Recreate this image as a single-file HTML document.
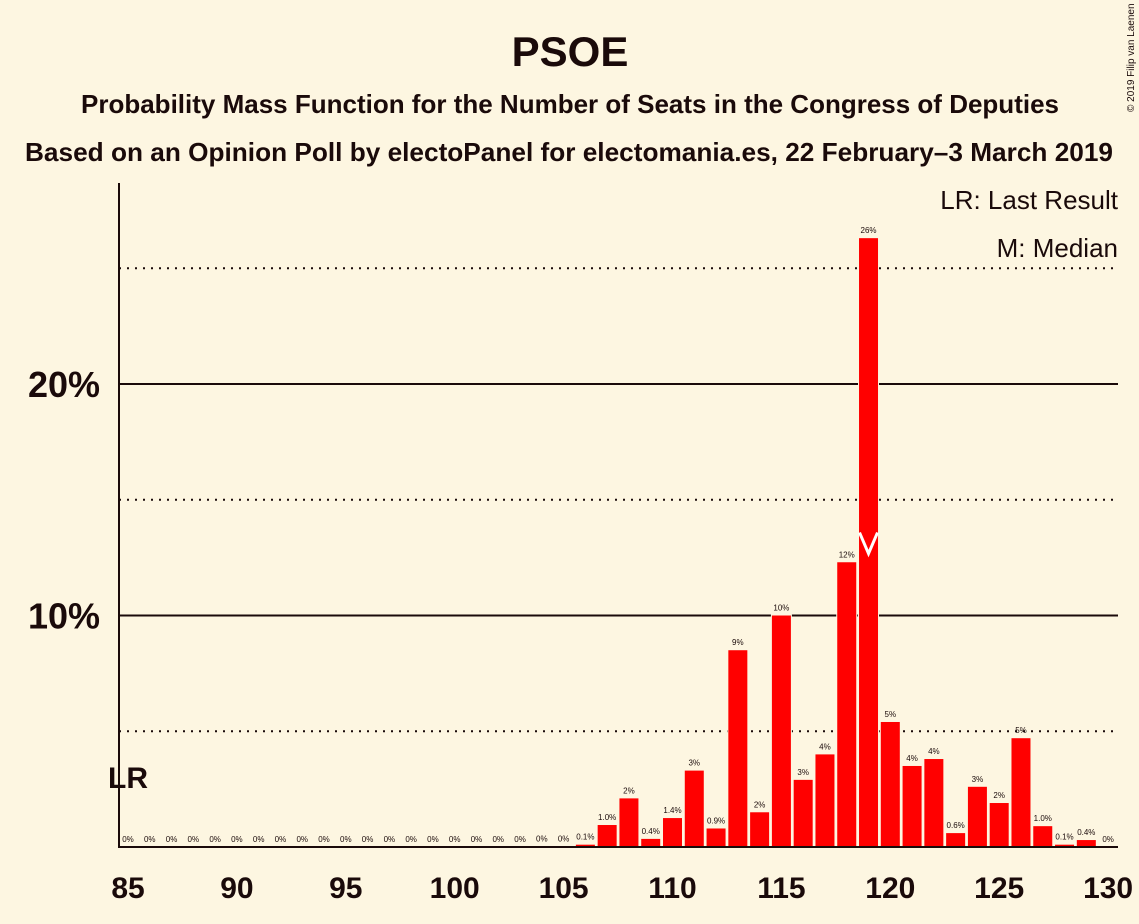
<!DOCTYPE html>
<html><head><meta charset="utf-8"><style>
body{margin:0;background:#fdf6e1;}
svg{display:block;font-family:"Liberation Sans",sans-serif;}
</style></head><body>
<svg id="c" width="1139" height="924" viewBox="0 0 1139 924">
<rect width="1139" height="924" fill="#fdf6e1"/>
<text x="570" y="66" text-anchor="middle" font-size="42" font-weight="bold" fill="#1a0a0a">PSOE</text>
<text x="570" y="113" text-anchor="middle" font-size="25.8" font-weight="bold" fill="#1a0a0a" textLength="978" lengthAdjust="spacingAndGlyphs">Probability Mass Function for the Number of Seats in the Congress of Deputies</text>
<text x="569" y="161" text-anchor="middle" font-size="26" font-weight="bold" fill="#1a0a0a" textLength="1088" lengthAdjust="spacingAndGlyphs">Based on an Opinion Poll by electoPanel for electomania.es, 22 February–3 March 2019</text>
<text x="1134" y="112" font-size="10" fill="#1a0a0a" transform="rotate(-90 1134 112)">© 2019 Filip van Laenen</text>
<g id="grid"></g>
<g id="bars"></g>
<line x1="119" y1="183" x2="119" y2="847" stroke="#1a0a0a" stroke-width="2"/>
<line x1="118" y1="847" x2="1118" y2="847" stroke="#1a0a0a" stroke-width="2"/>
<text x="1118" y="209" text-anchor="end" font-size="26" fill="#1a0a0a">LR: Last Result</text>
<text x="1118" y="257" text-anchor="end" font-size="26" fill="#1a0a0a">M: Median</text>
<text x="108" y="788" font-size="30" font-weight="bold" fill="#1a0a0a">LR</text>
<g id="ticks"></g>
</svg>
<script>
const seats=[85,86,87,88,89,90,91,92,93,94,95,96,97,98,99,100,101,102,103,104,105,106,107,108,109,110,111,112,113,114,115,116,117,118,119,120,121,122,123,124,125,126,127,128,129,130];
const probs=[0,0,0,0,0,0,0,0,0,0,0,0,0,0,0,0,0,0,0,0.02,0.03,0.1,0.95,2.1,0.35,1.25,3.3,0.8,8.5,1.5,10.0,2.9,4.0,12.3,26.3,5.4,3.5,3.8,0.6,2.6,1.9,4.7,0.9,0.1,0.3,0];
const labels=["0%","0%","0%","0%","0%","0%","0%","0%","0%","0%","0%","0%","0%","0%","0%","0%","0%","0%","0%","0%","0%","0.1%","1.0%","2%","0.4%","1.4%","3%","0.9%","9%","2%","10%","3%","4%","12%","26%","5%","4%","4%","0.6%","3%","2%","5%","1.0%","0.1%","0.4%","0%"];
const xTicks=[85,90,95,100,105,110,115,120,125,130];
const yTicks=[10,20];
const yMinor=[5,15,25];
const median=119;
const NS="http://www.w3.org/2000/svg";
const X=s=>128+(s-85)*21.78;
const Y=v=>847-v*23.15;
function mk(t,a,p){const e=document.createElementNS(NS,t);for(const k in a)e.setAttribute(k,a[k]);p.appendChild(e);return e;}
const grid=document.getElementById('grid'),bars=document.getElementById('bars'),ticks=document.getElementById('ticks');
yMinor.forEach(v=>{const l=mk('line',{x1:119,x2:1118,y1:Y(v),y2:Y(v),stroke:'#1a0a0a','stroke-width':2,'stroke-dasharray':'2,6'},grid);

});
yTicks.forEach(v=>{const l=mk('line',{x1:119,x2:1118,y1:Y(v),y2:Y(v),stroke:'#1a0a0a','stroke-width':2},grid);


const t=mk('text',{x:100,y:Y(v)+13,'text-anchor':'end','font-size':36,'font-weight':'bold',fill:'#1a0a0a'},ticks);t.textContent=v+'%';

});
xTicks.forEach(s=>{const t=mk('text',{x:X(s),y:898,'text-anchor':'middle','font-size':30,'font-weight':'bold',fill:'#1a0a0a'},ticks);t.textContent=s;

});
seats.forEach((s,i)=>{const v=probs[i];
if(v>0){const r=mk('rect',{x:X(s)-9.5,y:Y(v),width:19,height:847-Y(v),fill:'#f00',stroke:'#fdf6e1','stroke-width':2,'paint-order':'stroke'},bars);

}
const t=mk('text',{x:X(s),y:Y(v)-5,'text-anchor':'middle','font-size':8,fill:'#1a0a0a'},bars);t.textContent=labels[i];


if(s===median){const m=mk('polyline',{points:`${X(s)-9},${Y(v/2)-10} ${X(s)},${Y(v/2)+11} ${X(s)+9},${Y(v/2)-10}`,fill:'none',stroke:'#fff','stroke-width':3},bars);

}
});
</script>
</body></html>
